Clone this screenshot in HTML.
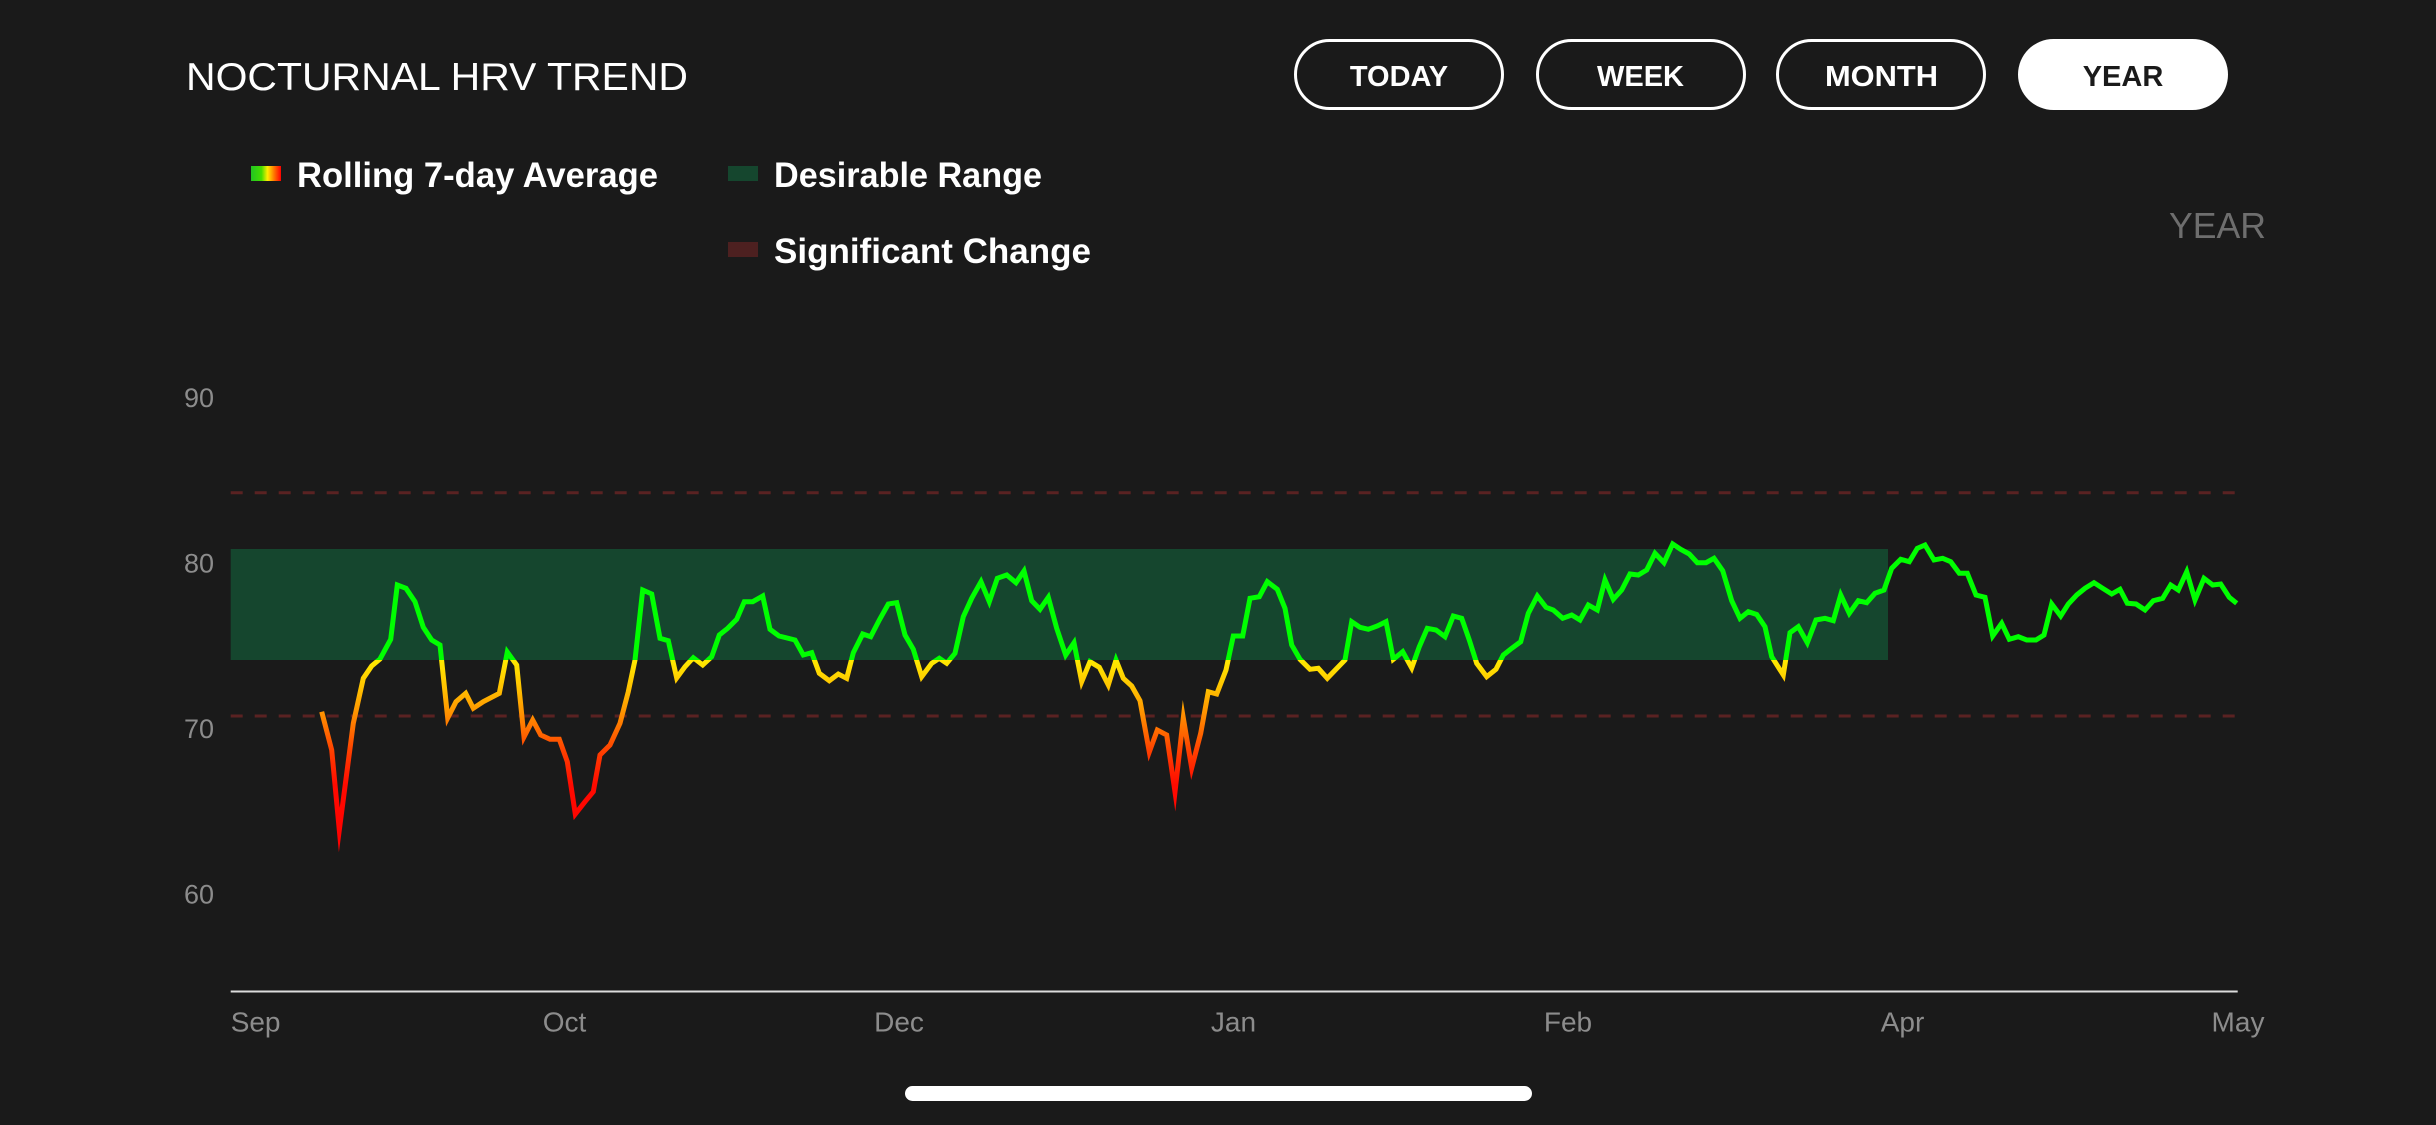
<!DOCTYPE html>
<html>
<head>
<meta charset="utf-8">
<style>
  html, body { margin: 0; padding: 0; background: #1a1a1a; }
  body { width: 2436px; height: 1125px; overflow: hidden; }
  svg { display: block; }
  text { font-family: "Liberation Sans", sans-serif; }
</style>
</head>
<body>
<svg width="2436" height="1125" viewBox="0 0 2436 1125" xmlns="http://www.w3.org/2000/svg">
  <defs>
    <linearGradient id="lineGrad" gradientUnits="userSpaceOnUse" x1="0" y1="540" x2="0" y2="850">
      <stop offset="0" stop-color="#00ff00"/>
      <stop offset="0.387" stop-color="#00ff00"/>
      <stop offset="0.387" stop-color="#ffea00"/>
      <stop offset="0.484" stop-color="#ffbf00"/>
      <stop offset="0.568" stop-color="#ff8c00"/>
      <stop offset="0.677" stop-color="#ff4200"/>
      <stop offset="0.79" stop-color="#ff0a00"/>
      <stop offset="1" stop-color="#ff0000"/>
    </linearGradient>
    <linearGradient id="legGrad" x1="0" y1="0" x2="1" y2="0">
      <stop offset="0" stop-color="#22c422"/>
      <stop offset="0.35" stop-color="#44dd00"/>
      <stop offset="0.55" stop-color="#ffee00"/>
      <stop offset="0.8" stop-color="#ff6600"/>
      <stop offset="1" stop-color="#ff0000"/>
    </linearGradient>
  </defs>

  <rect x="0" y="0" width="2436" height="1125" fill="#1a1a1a"/>

  <!-- Title -->
  <text x="186" y="90" font-size="39" fill="#ffffff" textLength="502" lengthAdjust="spacingAndGlyphs">NOCTURNAL HRV TREND</text>

  <!-- Buttons -->
  <rect x="1295.5" y="40.5" width="207" height="68" rx="34" ry="34" fill="none" stroke="#ffffff" stroke-width="3"/>
  <rect x="1537.5" y="40.5" width="207" height="68" rx="34" ry="34" fill="none" stroke="#ffffff" stroke-width="3"/>
  <rect x="1777.5" y="40.5" width="207" height="68" rx="34" ry="34" fill="none" stroke="#ffffff" stroke-width="3"/>
  <rect x="2018" y="39" width="210" height="71" rx="35.5" ry="35.5" fill="#ffffff"/>
  <text x="1399" y="86" font-size="29" font-weight="bold" fill="#ffffff" text-anchor="middle">TODAY</text>
  <text x="1640.5" y="86" font-size="29" font-weight="bold" fill="#ffffff" text-anchor="middle">WEEK</text>
  <text x="1881.5" y="86" font-size="29" font-weight="bold" fill="#ffffff" text-anchor="middle" textLength="113" lengthAdjust="spacingAndGlyphs">MONTH</text>
  <text x="2123" y="86" font-size="29" font-weight="bold" fill="#1a1a1a" text-anchor="middle">YEAR</text>

  <!-- Legend -->
  <rect x="251" y="166" width="30" height="15" fill="url(#legGrad)"/>
  <text x="297" y="187" font-size="35" font-weight="bold" fill="#ffffff" textLength="361" lengthAdjust="spacingAndGlyphs">Rolling 7-day Average</text>
  <rect x="728" y="166" width="30" height="15" fill="#15462e"/>
  <text x="774" y="187" font-size="35" font-weight="bold" fill="#ffffff" textLength="268" lengthAdjust="spacingAndGlyphs">Desirable Range</text>
  <rect x="728" y="242" width="30" height="15" fill="#4d2020"/>
  <text x="774" y="263" font-size="35" font-weight="bold" fill="#ffffff" textLength="317" lengthAdjust="spacingAndGlyphs">Significant Change</text>

  <!-- Period label -->
  <text x="2169" y="238" font-size="36" fill="#6e6e6e" textLength="97" lengthAdjust="spacingAndGlyphs">YEAR</text>

  <!-- Y axis labels -->
  <g font-size="27" fill="#8c8c8c" text-anchor="end">
    <text x="214" y="407">90</text>
    <text x="214" y="572.5">80</text>
    <text x="214" y="738">70</text>
    <text x="214" y="903.5">60</text>
  </g>

  <!-- Desirable range band -->
  <rect x="230.7" y="549" width="1657.3" height="111" fill="#15462e"/>

  <!-- Significant change dashed lines -->
  <line x1="230.7" y1="492.7" x2="2237.7" y2="492.7" stroke="#5a2222" stroke-width="3" stroke-dasharray="12 12"/>
  <line x1="230.7" y1="716" x2="2237.7" y2="716" stroke="#5a2222" stroke-width="3" stroke-dasharray="12 12"/>

  <!-- X axis -->
  <line x1="230.7" y1="991.5" x2="2237.7" y2="991.5" stroke="#dcdcdc" stroke-width="2"/>
  <g font-size="28" fill="#8c8c8c">
    <text x="230.7" y="1031.5">Sep</text>
    <text x="564.5" y="1031.5" text-anchor="middle">Oct</text>
    <text x="899" y="1031.5" text-anchor="middle">Dec</text>
    <text x="1233.5" y="1031.5" text-anchor="middle">Jan</text>
    <text x="1568" y="1031.5" text-anchor="middle">Feb</text>
    <text x="1902.5" y="1031.5" text-anchor="middle">Apr</text>
    <text x="2238" y="1031.5" text-anchor="middle">May</text>
  </g>

  <!-- Rolling average line -->
  <polyline fill="none" stroke="url(#lineGrad)" stroke-width="5" stroke-linejoin="miter" stroke-miterlimit="10" stroke-linecap="butt"
    points="321.7,711.7 331.7,750 339.3,830 353.3,723.3 363.3,678.3 371.7,666 380,659 390.7,639.3 397.3,585 406,588.3 415,601.7 423.3,627.3 431.7,640 440,645 447.7,718 456,701.7 465.7,693.3 473.3,708.3 483.3,701.7 499.3,693.3 507.3,652 516.7,665 524,737 532.7,720 540.7,735 550,739.3 559.3,739.3 567.3,761.7 575.3,814 585,801.7 593.3,791.7 600,755 610,745 620,723.3 628.3,691.7 635,660 642.7,590 651.7,594 660,638.3 668.3,640.7 676.7,678 685,666.7 693.3,657.7 702.7,665 711.7,656.7 719.3,635 727.7,628.3 736.7,619.3 744.3,601.7 752.7,601.7 762.7,596 770,629.3 779,636 795,640 803.3,655 811.7,652.7 819.3,673.3 829.3,680.7 838.3,674 846.7,678.3 853.3,652.7 862.7,634 870.7,636.7 879.3,620 888.3,604 896.7,602.7 905,635 913.3,649.3 921.7,676.7 931.7,663.3 939.3,658.3 946.7,663.3 955,653.3 963.3,616.7 971.7,598.3 981,581.7 989.3,601.7 997.3,578.3 1006.7,575 1016,582.7 1024,571 1031.7,600.7 1040,609.3 1048.3,597.3 1056.7,628.3 1065.7,655 1074,642.7 1081.7,681.7 1090,661.7 1099.3,667.3 1108.3,685 1116,660 1123.3,678.3 1131.7,686 1140,700.7 1149.3,752 1157.3,730 1166.7,735 1175,792 1183.3,718 1191.7,768 1200.7,733.3 1208.3,691.7 1216.7,694 1226,670 1233.3,636 1242.7,636 1250,598.3 1259.3,596.7 1267.3,581.7 1277.3,589.3 1285,608.3 1291.7,645 1300,659.3 1310,669.3 1318.3,668.3 1327.3,678.3 1336,669.3 1345,660 1351.7,621.7 1360,627.3 1368.3,629.3 1377.3,626 1386,621.7 1393.3,659.3 1402.7,651.7 1411.7,668 1419.3,646.7 1427.3,628.3 1436,630 1445,636.7 1453.3,616 1461.7,618.3 1469.3,640 1476.7,663.3 1486.7,676.7 1496,669.3 1503.3,655 1511.7,648.3 1520.7,641.7 1528.3,613.3 1537.3,596 1546,607.3 1553.3,610 1562.7,618.3 1571.7,615 1580,620 1588.3,605 1597.3,610 1605,580 1613.3,599.3 1621.7,590 1630,574 1638.3,575 1646.7,570 1655,553.3 1664,562.7 1672.7,544 1680.7,549.3 1689.3,554 1697.3,562.7 1706,562.7 1714,558.3 1722.7,570.7 1731.7,600.7 1740,618.3 1748.3,611.7 1756.7,614.5 1765,626.7 1771.7,656.7 1783.3,675 1790,632.7 1798.3,626.7 1807.3,642.7 1816,620 1825,618.3 1833.3,620.7 1840.7,595 1849.3,613.3 1858.3,600.7 1866.7,602.7 1875,593.3 1884,590 1891.7,568.3 1900.7,559.3 1909.3,561.7 1917.3,548.3 1925,545 1934,560 1942.7,558.3 1950.7,561.7 1959.3,573.3 1967.3,573.3 1976,595 1985,597.3 1992.7,636 2001.7,623.3 2009.3,639.3 2018.3,636.7 2026.7,640 2036,640 2044,635 2051.7,604 2060.7,616 2068.3,604 2076.7,595 2085,588.3 2094,582.7 2102.7,588.3 2111.7,594 2120,589.3 2127.3,603.3 2136,604 2145,610 2153.3,600.7 2162.7,598.3 2170.7,585 2178.3,590 2186.7,571.7 2195,600 2204,578.3 2212.7,585 2220.7,584 2229.3,597.3 2236.7,603.3"/>

  <!-- Home indicator -->
  <rect x="905" y="1086" width="627" height="15" rx="7.5" ry="7.5" fill="#ffffff"/>
</svg>
</body>
</html>
